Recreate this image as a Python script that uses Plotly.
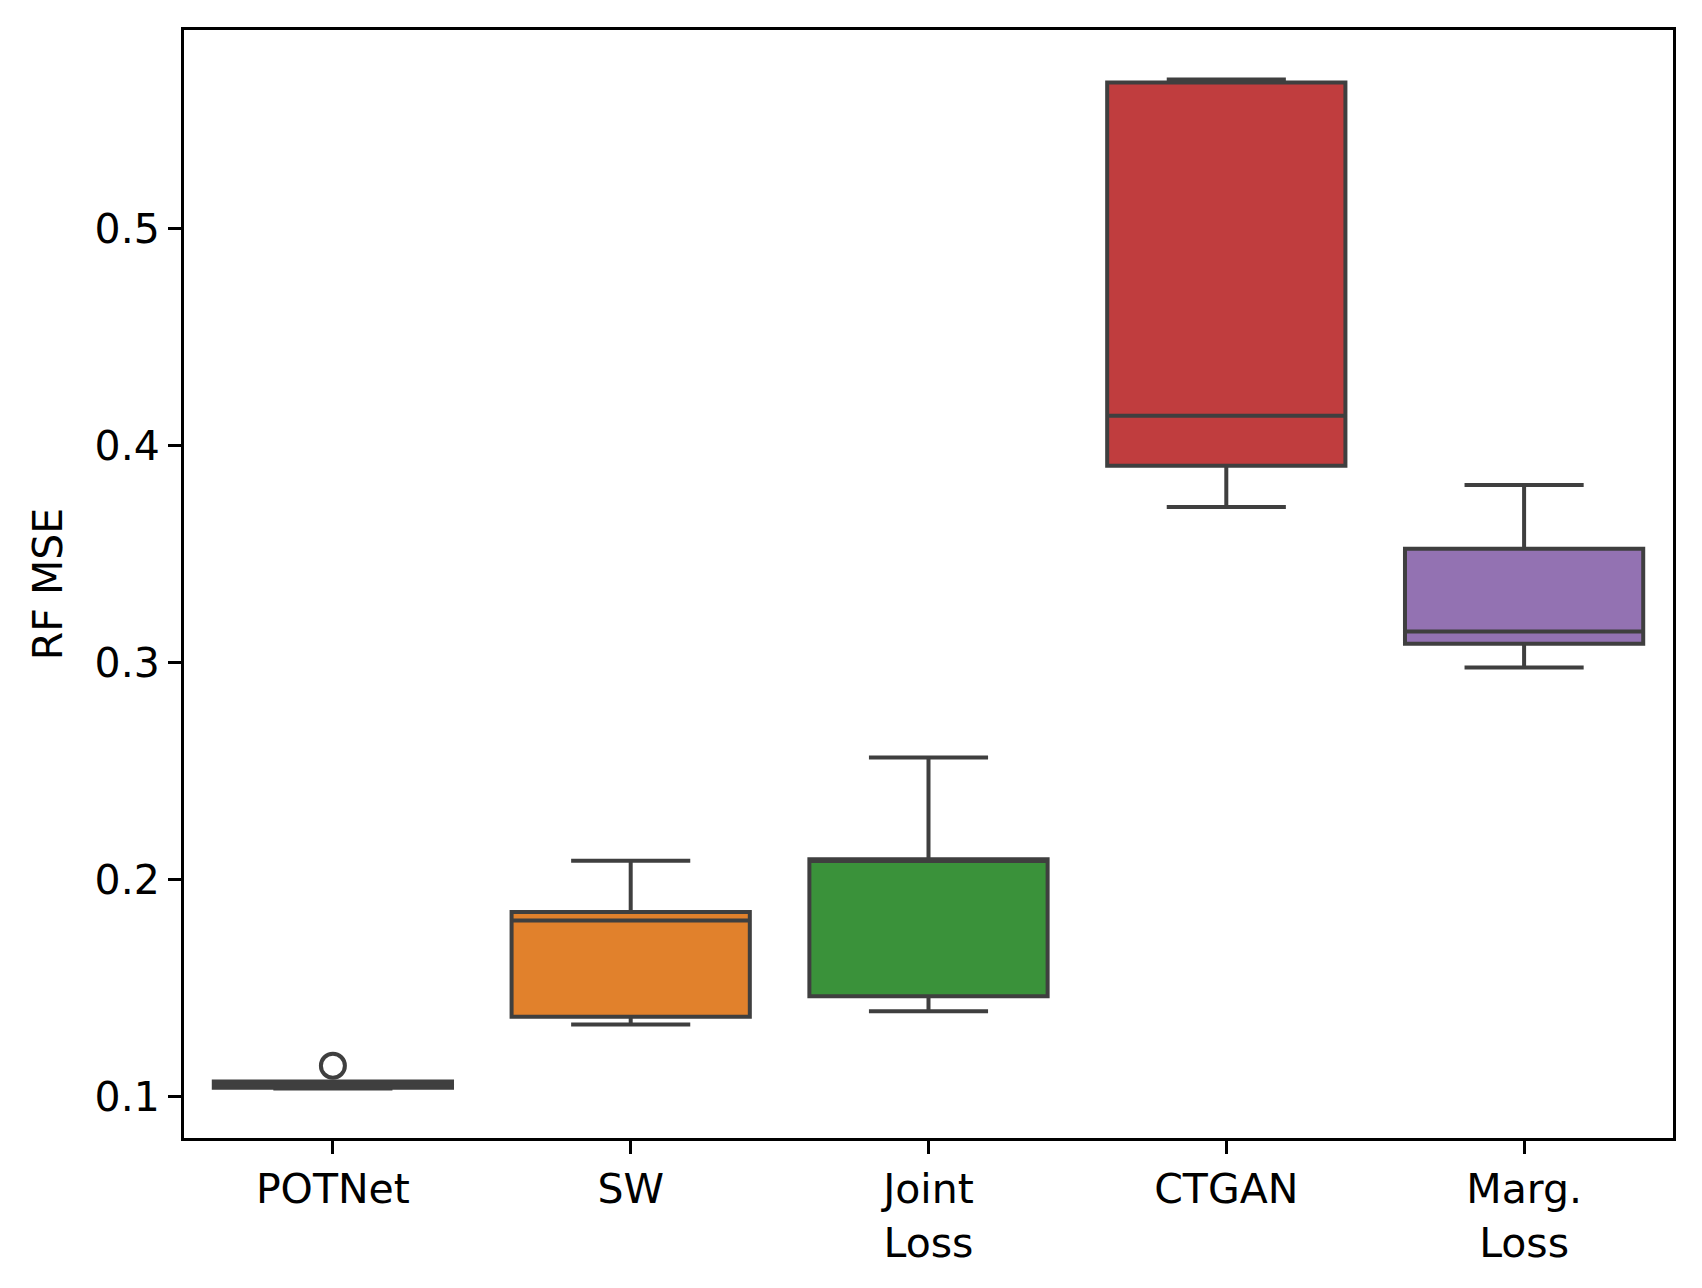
import plotly.graph_objects as go

categories = ["POTNet", "SW", "Joint<br>Loss", "CTGAN", "Marg.<br>Loss"]
lower_whisker = [0.1038, 0.1333, 0.1394, 0.3718, 0.2978]
q1_values = [0.1042, 0.1369, 0.1463, 0.3908, 0.3088]
medians = [0.1055, 0.1812, 0.2086, 0.4138, 0.3144]
q3_values = [0.1070, 0.1852, 0.2094, 0.5674, 0.3525]
upper_whisker = [0.1070, 0.2088, 0.2563, 0.5688, 0.3819]
colors = ["#3274a1", "#e1812c", "#3a923a", "#c03d3e", "#9372b2"]
outlier_cats = ["POTNet"]
outlier_values = [0.1143]

edge = "#3f3f3f"
font_family = "DejaVu Sans"
fs = 41

fig = go.Figure()
for i, cat in enumerate(categories):
    fig.add_trace(go.Box(
        x=[cat],
        q1=[q1_values[i]], median=[medians[i]], q3=[q3_values[i]],
        lowerfence=[lower_whisker[i]], upperfence=[upper_whisker[i]],
        fillcolor=colors[i],
        line=dict(color=edge, width=4),
        width=0.8,
        whiskerwidth=0.5,
        boxpoints=False,
        showlegend=False,
    ))

fig.add_trace(go.Scatter(
    x=outlier_cats, y=outlier_values, mode="markers",
    marker=dict(symbol="circle-open", size=24, color=edge, line=dict(width=4, color=edge)),
    showlegend=False,
))

fig.update_layout(
    width=1694, height=1280,
    margin=dict(l=176, r=29, t=22, b=150),
    paper_bgcolor="white", plot_bgcolor="white",
    font=dict(family=font_family, size=fs, color="black"),
    boxmode="overlay",
)
fig.update_xaxes(
    type="category",
    categoryorder="array", categoryarray=categories,
    range=[-0.5, 4.5],
    showline=True, linecolor="black", linewidth=3, mirror=True,
    ticks="outside", ticklen=13, tickwidth=3, tickcolor="black",
    showgrid=False, zeroline=False,
    tickfont=dict(family=font_family, size=fs, color="black"),
)
fig.update_yaxes(
    range=[0.081, 0.5916],
    tickmode="array", tickvals=[0.1, 0.2, 0.3, 0.4, 0.5],
    ticktext=["0.1", "0.2", "0.3", "0.4", "0.5"],
    showline=True, linecolor="black", linewidth=3, mirror=True,
    ticks="outside", ticklen=13, tickwidth=3, tickcolor="black",
    showgrid=False, zeroline=False,
    tickfont=dict(family=font_family, size=fs, color="black"),
    title=dict(text="RF MSE", font=dict(family=font_family, size=fs, color="black"), standoff=20),
)

fig.write_html("out.html")
